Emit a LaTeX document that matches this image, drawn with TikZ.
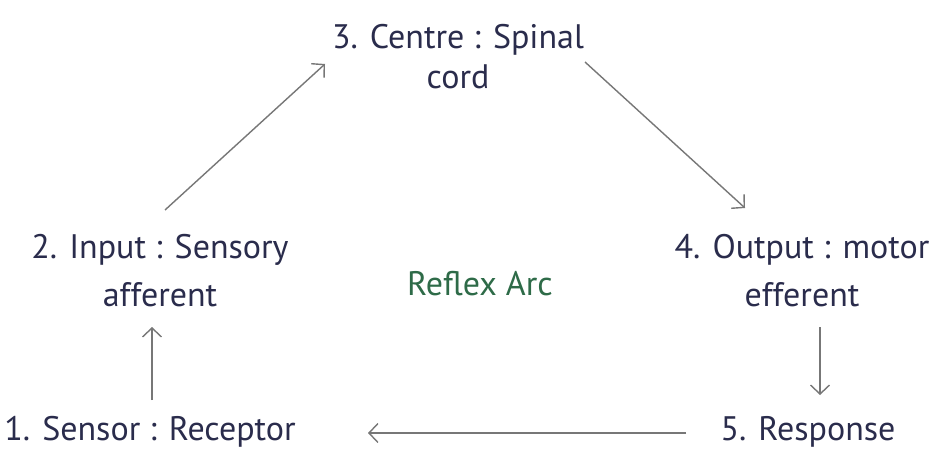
\documentclass[tikz,border=0pt]{standalone}
\usepackage{fontspec}
\setmainfont{PT Sans}
\usetikzlibrary{arrows.meta,calc}
\definecolor{ink}{HTML}{2A2C4C}
\definecolor{leaf}{HTML}{2E6B48}
\definecolor{wire}{HTML}{777777}
\begin{document}
\begin{tikzpicture}[x=1pt,y=-1pt,
  label/.style={inner sep=0pt, text=ink, font=\fontsize{34}{40}\selectfont, align=center},
  arr/.style={draw=wire, line width=1.4pt, -{Straight Barb[length=9pt,width=19pt,line width=1.4pt]}}]
  \useasboundingbox[fill=white] (0,0) rectangle (931,452);
  % stages of the arc
  \node[label] (centre) at (458,57) {3. Centre : Spinal\\cord};
  \node[label, font=\fontsize{34}{48}\selectfont] (input) at (160,271) {2. Input : Sensory\\afferent};
  \node[label, font=\fontsize{34}{48}\selectfont] (output) at (802,271) {4. Output : motor\\efferent};
  \node[label] (sensor) at (150,432) {1. Sensor : Receptor};
  \node[label] (response) at (808,432) {5. Response};
  \node[inner sep=0pt, text=leaf, font=\fontsize{34}{40}\selectfont] (title) at (480,284) {Reflex Arc};
  % connectors
  \draw[arr] ($(input.center)+(5,-61)$) -- ($(centre.center)+(-133,7)$);
  \draw[arr] ($(centre.center)+(127,5)$) -- ($(output.center)+(-57,-63)$);
  \draw[arr] ($(sensor.center)+(2,-32)$) -- ($(input.center)+(-8,56)$);
  \draw[arr] ($(output.center)+(18,56)$) -- ($(response.center)+(12,-37)$);
  \draw[arr] ($(response.center)+(-122,1)$) -- ($(sensor.center)+(218,1)$);
\end{tikzpicture}
\end{document}
